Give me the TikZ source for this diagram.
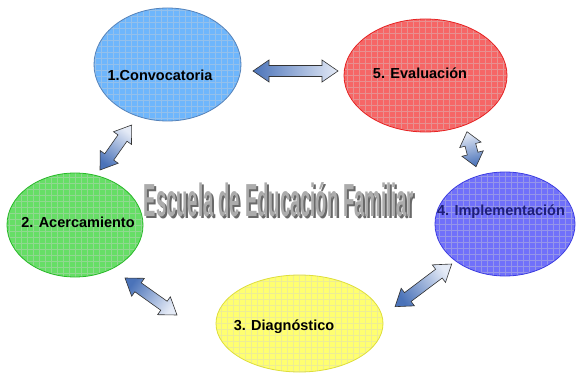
\documentclass[tikz,border=0pt]{standalone}
\usepackage{fontspec}
\setmainfont{Liberation Sans}
\usepackage{graphicx}
\usetikzlibrary{shapes.geometric,calc}
\definecolor{cblue}{RGB}{110,182,252}
\definecolor{bblue}{RGB}{85,130,185}
\definecolor{cred}{RGB}{246,102,102}
\definecolor{bred}{RGB}{230,35,35}
\definecolor{cgreen}{RGB}{102,222,102}
\definecolor{bgreen}{RGB}{40,185,40}
\definecolor{cyellow}{RGB}{255,255,112}
\definecolor{byellow}{RGB}{222,222,60}
\definecolor{cpurple}{RGB}{112,112,250}
\definecolor{bpurple}{RGB}{60,60,225}
\definecolor{navy}{RGB}{30,30,120}
\definecolor{adark}{RGB}{75,115,185}
\definecolor{alight}{RGB}{228,234,246}
\definecolor{tgray}{RGB}{172,172,172}
\definecolor{tshadow}{RGB}{105,105,105}
\newcommand\titletext{\resizebox{270pt}{34pt}{Escuela de Educación Familiar}}
\newcommand\dblarrow[2]{%
  \pgfpointdiff{\pgfpointanchor{#1}{center}}{\pgfpointanchor{#2}{center}}%
  \pgfgetlastxy{\arrdx}{\arrdy}%
  \pgfmathsetmacro\arrang{atan2(\arrdy,\arrdx)}%
  \pgfmathsetmacro\arrl{veclen(\arrdx,\arrdy)/2}%
  \pgfmathsetmacro\arrh{min(16,\arrl*0.75)}%
  \pgfmathsetmacro\arrsh{\arrang-90}%
  \begin{scope}[shift={($(#1)!0.5!(#2)$)}, rotate=\arrang]
    \draw[arr, top color=alight, bottom color=adark, shading angle=\arrsh]
      (-\arrl,0) -- (-\arrl+\arrh,11) -- (-\arrl+\arrh,5.5) -- (\arrl-\arrh,5.5)
      -- (\arrl-\arrh,11) -- (\arrl,0) -- (\arrl-\arrh,-11) -- (\arrl-\arrh,-5.5)
      -- (-\arrl+\arrh,-5.5) -- (-\arrl+\arrh,-11) -- cycle;
  \end{scope}}
\tikzset{
  ell/.style={ellipse, draw, line width=0.8pt, inner sep=0pt,
    path picture={
      \draw[white, opacity=0.35, line width=0.5pt, step=6pt]
        (path picture bounding box.south west) grid (path picture bounding box.north east);
      \draw[black, opacity=0.07, line width=0.4pt, step=6pt, shift={(3pt,3pt)}]
        (path picture bounding box.south west) grid (path picture bounding box.north east);}},
  lbl/.style={font=\fontsize{14.5}{17}\selectfont\bfseries, inner sep=0pt},
  arr/.style={draw=black!80, line width=0.6pt, line join=miter},
  ttl/.style={font=\bfseries, inner sep=0pt}
}
\begin{document}
\begin{tikzpicture}[x=1pt,y=-1pt]
\useasboundingbox (0,0) rectangle (577,374);
\fill[white] (0,0) rectangle (577,374);
% ellipses
\node[ell, fill=cblue, draw=bblue, minimum width=147, minimum height=113] (e1) at (167.5,64.5) {};
\node[ell, fill=cred, draw=bred, minimum width=163, minimum height=113] (e5) at (425.5,75.5) {};
\node[ell, fill=cpurple, draw=bpurple, minimum width=140, minimum height=104] (e4) at (505,224) {};
\node[ell, fill=cgreen, draw=bgreen, minimum width=136, minimum height=104] (e2) at (75,225) {};
\node[ell, fill=cyellow, draw=byellow, minimum width=167, minimum height=97] (e3) at (299.5,323.5) {};
% labels
\node[lbl] (t1) at (160,75) {1.Convocatoria};
\node[lbl] (t5) at (420,73) {5. Evaluación};
\node[lbl, text=navy] (t4) at (501,212) {4. Implementación};
\node[lbl] (t2) at (78,222) {2. Acercamiento};
\node[lbl] (t3) at (284,327) {3. Diagnóstico};
% title with shadow, one node
\node[ttl] (ttl) at (279,200.5) {\makebox[0pt][l]{\hspace*{2pt}\raisebox{-1.5pt}{\color{tshadow}\titletext}}{\color{tgray}\titletext}};
% arrow end points
\coordinate (a1) at (253,71);
\coordinate (a2) at (338,71);
\coordinate (b1) at (100,170);
\coordinate (b2) at (131.7,125);
\coordinate (c1) at (125,278);
\coordinate (c2) at (177,315);
\coordinate (d1) at (395,306.7);
\coordinate (d2) at (451.7,264);
\coordinate (f1) at (476,166.7);
\coordinate (f2) at (467,131.7);
\dblarrow{a1}{a2}
\dblarrow{b1}{b2}
\dblarrow{c1}{c2}
\dblarrow{d1}{d2}
\dblarrow{f1}{f2}
\end{tikzpicture}
\end{document}
